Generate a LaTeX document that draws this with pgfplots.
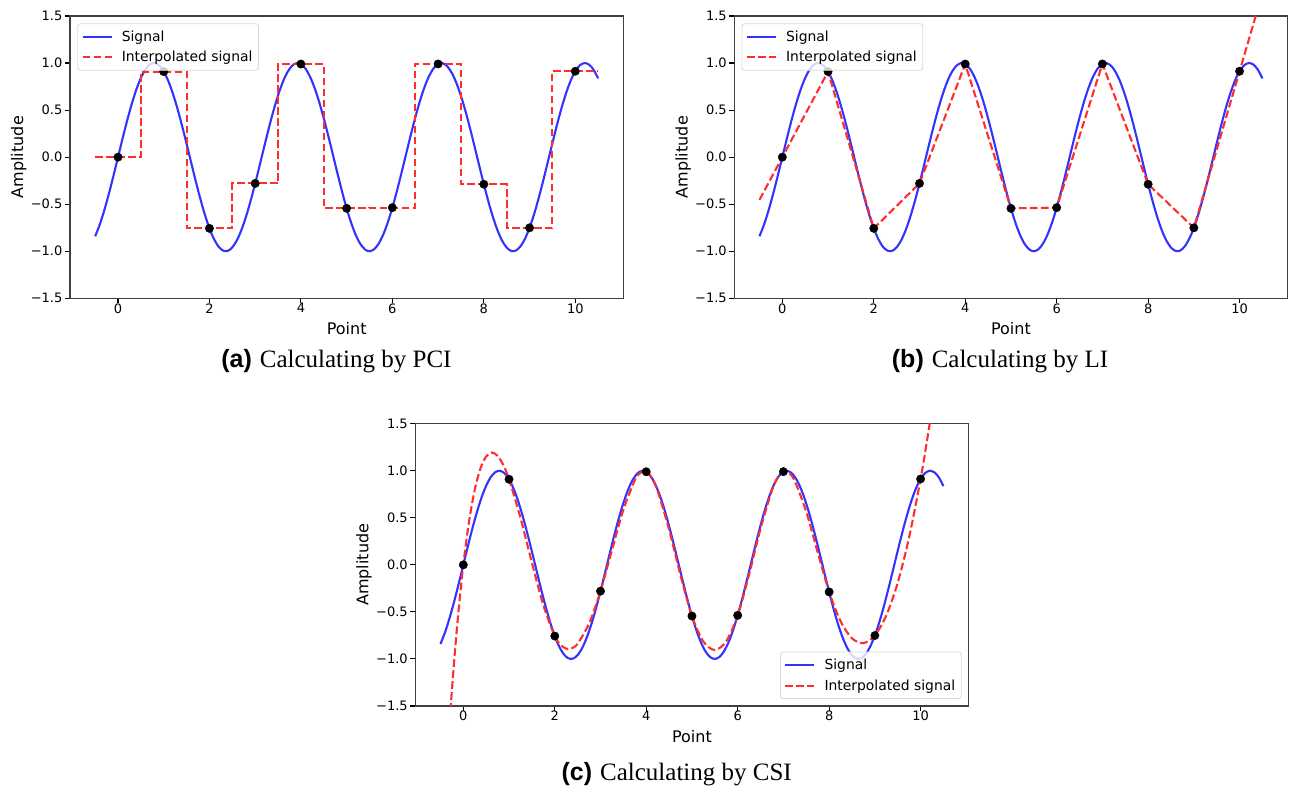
\documentclass[border=0pt]{standalone}
\usepackage{fontspec}
\setmainfont{DejaVu Sans}
\newfontfamily\capsans{Liberation Sans}
\newfontfamily\capserif{Liberation Serif}
\usepackage{pgfplots}
\pgfplotsset{compat=1.18}
\usepackage{pgfplotstable}
\definecolor{sigblue}{RGB}{51,51,255}
\definecolor{intred}{RGB}{255,45,45}

\pgfplotstableread{
x y
-0.5 -0.84147
-0.4 -0.71736
-0.3 -0.56464
-0.2 -0.38942
-0.1 -0.19867
0.0 0.00000
0.1 0.19867
0.2 0.38942
0.3 0.56464
0.4 0.71736
0.5 0.84147
0.6 0.93204
0.7 0.98545
0.8 0.99957
0.9 0.97385
1.0 0.90930
1.1 0.80850
1.2 0.67546
1.3 0.51550
1.4 0.33499
1.5 0.14112
1.6 -0.05837
1.7 -0.25554
1.8 -0.44252
1.9 -0.61186
2.0 -0.75680
2.1 -0.87158
2.2 -0.95160
2.3 -0.99369
2.4 -0.99616
2.5 -0.95892
2.6 -0.88345
2.7 -0.77276
2.8 -0.63127
2.9 -0.46460
3.0 -0.27942
3.1 -0.08309
3.2 0.11655
3.3 0.31154
3.4 0.49411
3.5 0.65699
3.6 0.79367
3.7 0.89871
3.8 0.96792
3.9 0.99854
4.0 0.98936
4.1 0.94073
4.2 0.85460
4.3 0.73440
4.4 0.58492
4.5 0.41212
4.6 0.22289
4.7 0.02478
4.8 -0.17433
4.9 -0.36648
5.0 -0.54402
5.1 -0.69987
5.2 -0.82783
5.3 -0.92278
5.4 -0.98094
5.5 -0.99999
5.6 -0.97918
5.7 -0.91933
5.8 -0.82283
5.9 -0.69353
6.0 -0.53657
6.1 -0.35823
6.2 -0.16560
6.3 0.03362
6.4 0.23151
6.5 0.42017
6.6 0.59207
6.7 0.74038
6.8 0.85916
6.9 0.94370
7.0 0.99061
7.1 0.99803
7.2 0.96566
7.3 0.89479
7.4 0.78825
7.5 0.65029
7.6 0.48641
7.7 0.30312
7.8 0.10775
7.9 -0.09191
8.0 -0.28790
8.1 -0.47244
8.2 -0.63811
8.3 -0.77838
8.4 -0.88760
8.5 -0.96140
8.6 -0.99693
8.7 -0.99266
8.8 -0.94884
8.9 -0.86720
9.0 -0.75099
9.1 -0.60484
9.2 -0.43457
9.3 -0.24697
9.4 -0.04954
9.5 0.14988
9.6 0.34332
9.7 0.52307
9.8 0.68196
9.9 0.81368
10.0 0.91294
10.1 0.97582
10.2 0.99979
10.3 0.98391
10.4 0.92880
10.5 0.83666
}\signal

\pgfplotstableread{
x y
0 0.000000
1 0.909297
2 -0.756802
3 -0.279415
4 0.989358
5 -0.544021
6 -0.536573
7 0.990607
8 -0.287903
9 -0.750987
10 0.912945
}\samples

\pgfplotstableread{
x y
-0.5 0
0.5 0
0.5 0.909297
1.5 0.909297
1.5 -0.756802
2.5 -0.756802
2.5 -0.279415
3.5 -0.279415
3.5 0.989358
4.5 0.989358
4.5 -0.544021
5.5 -0.544021
5.5 -0.536573
6.5 -0.536573
6.5 0.990607
7.5 0.990607
7.5 -0.287903
8.5 -0.287903
8.5 -0.750987
9.5 -0.750987
9.5 0.912945
10.5 0.912945
}\pci

\pgfplotstableread{
x y
-0.5 -0.454649
0 0.000000
1 0.909297
2 -0.756802
3 -0.279415
4 0.989358
5 -0.544021
6 -0.536573
7 0.990607
8 -0.287903
9 -0.750987
10 0.912945
10.5 1.744911
}\li

\pgfplotstableread{
x y
-0.5 -3.30123
-0.375 -2.23336
-0.25 -1.33503
-0.125 -0.59450
0 0
0.125 0.46022
0.25 0.79791
0.375 1.02483
0.5 1.15273
0.625 1.19338
0.75 1.15852
0.875 1.05997
1.0 0.90930
1.25 0.49912
1.5 0.02201
1.75 -0.42797
2.0 -0.75680
2.125 -0.84893
2.25 -0.89074
2.375 -0.88570
2.5 -0.83728
2.75 -0.62424
3.0 -0.27942
3.25 0.15576
3.5 0.58533
3.75 0.89972
3.875 0.97948
4.0 0.98936
4.125 0.92063
4.25 0.78447
4.5 0.37446
4.75 -0.11144
5.0 -0.54402
5.25 -0.81563
5.5 -0.90483
5.75 -0.81177
6.0 -0.53657
6.25 -0.10114
6.5 0.38565
6.75 0.79311
6.875 0.92627
7.0 0.99061
7.125 0.97495
7.25 0.88880
7.5 0.56361
7.75 0.13229
8.0 -0.28790
8.25 -0.59908
8.5 -0.78075
8.75 -0.83177
9.0 -0.75099
9.25 -0.53727
9.5 -0.18947
9.75 0.29355
10.0 0.91294
10.125 1.27414
10.25 1.66985
10.5 2.56540
}\csi

\pgfplotsset{
  myax/.style={
    scale only axis, width=553.3pt, height=282.3pt,
    xmin=-1.05, xmax=11.05, ymin=-1.5, ymax=1.5,
    xtick={0,2,4,6,8,10}, xticklabels={0,2,4,6,8,10},
    ytick={-1.5,-1,-0.5,0,0.5,1,1.5},
    yticklabels={−1.5,−1.0,−0.5,0.0,0.5,1.0,1.5},
    tick align=outside, tick pos=left, major tick length=4.9pt,
    every tick/.style={black, line width=1.1pt},
    axis line style={black!75, line width=1.1pt},
    tick label style={font=\fontsize{13}{15}\selectfont, inner sep=0pt, text=black},
    xticklabel style={anchor=north},
    yticklabel style={anchor=east, xshift=-2.5pt},
    xlabel={Point}, ylabel={Amplitude},
    every axis x label/.style={at={(axis description cs:0.5,-0.13)}, anchor=base, font=\fontsize{16}{19}\selectfont},
    every axis y label/.style={at={(axis description cs:-0.0846,0.5)}, rotate=90, anchor=base, font=\fontsize{16}{19}\selectfont},
    legend cell align=left,
    legend image code/.code={\draw[##1] (0pt,0pt) -- (29pt,0pt);},
    legend style={draw=black!15, line width=0.8pt, rounded corners=2.5pt, fill=white, fill opacity=0.8, text opacity=1,
      font=\fontsize{13.9}{16}\selectfont, inner xsep=4pt, inner ysep=5pt, row sep=4.5pt,
      /tikz/every odd column/.append style={column sep=7pt}},
  },
  sig/.style={sigblue, line width=2.1pt, smooth},
  intp/.style={intred, line width=2.1pt, dash pattern=on 7.7pt off 3.3pt},
  dots/.style={only marks, mark=*, mark size=4.2pt, black, forget plot},
}

\begin{document}
\begin{tikzpicture}
\useasboundingbox (0,0) rectangle (1293pt,787pt);

\begin{axis}[myax, at={(70pt,488.7pt)}, anchor=south west,
  legend style={at={(axis description cs:0,1)}, anchor=north west, xshift=7.3pt, yshift=-7.3pt}]
  \addplot[sig] table {\signal};
  \addlegendentry{Signal}
  \addplot[intp] table {\pci};
  \addlegendentry{Interpolated signal\hspace{4pt}}
  \addplot[dots] table {\samples};
\end{axis}

\begin{axis}[myax, at={(734.3pt,488.7pt)}, anchor=south west,
  legend style={at={(axis description cs:0,1)}, anchor=north west, xshift=7.3pt, yshift=-7.3pt}]
  \addplot[sig] table {\signal};
  \addlegendentry{Signal}
  \addplot[intp] table {\li};
  \addlegendentry{Interpolated signal\hspace{4pt}}
  \addplot[dots] table {\samples};
\end{axis}

\begin{axis}[myax, at={(415.3pt,81pt)}, anchor=south west,
  legend style={at={(axis description cs:1,0)}, anchor=south east, xshift=-7pt, yshift=7pt}]
  \addplot[sig] table {\signal};
  \addlegendentry{Signal}
  \addplot[intp, smooth] table {\csi};
  \addlegendentry{Interpolated signal\hspace{4pt}}
  \addplot[dots] table {\samples};
\end{axis}

\node[anchor=base, inner sep=0pt, font=\fontsize{25}{30}\selectfont] at (336.4pt,419.7pt) {{\capsans\bfseries (a)} \capserif Calculating by PCI};
\node[anchor=base, inner sep=0pt, font=\fontsize{25}{30}\selectfont] at (1000pt,419.7pt) {{\capsans\bfseries (b)} \capserif Calculating by LI};
\node[anchor=base, inner sep=0pt, font=\fontsize{25}{30}\selectfont] at (676.7pt,6pt) {{\capsans\bfseries (c)} \capserif Calculating by CSI};
\end{tikzpicture}
\end{document}
